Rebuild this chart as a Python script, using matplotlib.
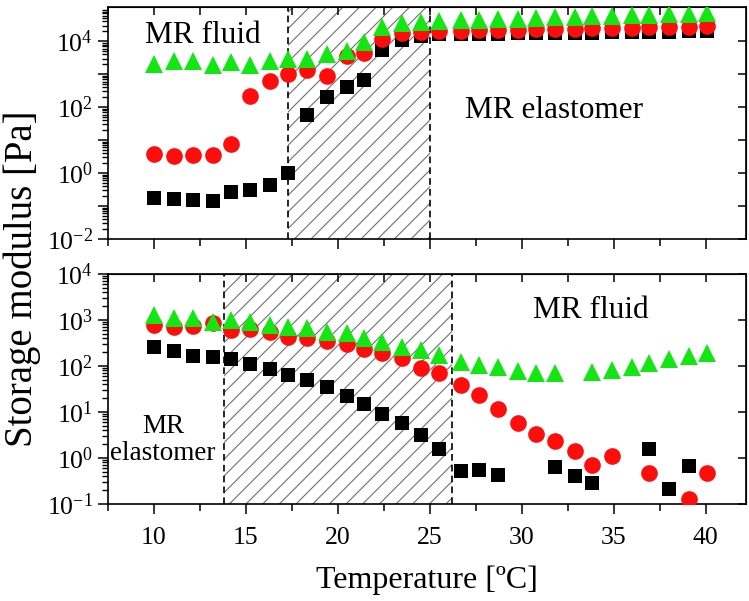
import numpy as np
import matplotlib
matplotlib.use('Agg')
import matplotlib.pyplot as plt
from matplotlib.ticker import FixedLocator, LogLocator, NullLocator, NullFormatter, FuncFormatter, MultipleLocator

plt.rcParams['font.family'] = ['Liberation Serif', 'DejaVu Serif']
plt.rcParams['mathtext.fontset'] = 'custom'
plt.rcParams['mathtext.rm'] = 'Liberation Serif'
plt.rcParams['mathtext.it'] = 'Liberation Serif:italic'
plt.rcParams['hatch.linewidth'] = 0.8

nan = np.nan

# temperature steps (same for every series)
temp = [10.0, 11.1, 12.1, 13.2, 14.2, 15.2, 16.3, 17.3, 18.3, 19.4,
        20.5, 21.4, 22.4, 23.5, 24.5, 25.5, 26.7, 27.7, 28.7, 29.8,
        30.8, 31.8, 32.9, 33.8, 34.9, 36.0, 36.9, 38.0, 39.1, 40.1]

# upper panel: MR fluid -> MR elastomer
top_black = [0.18, 0.16, 0.15, 0.14, 0.27, 0.31, 0.44, 1.0, 57, 205,
             414, 680, 5300, 10700, 14200, 16400, 16700, 17000, 17200, 17500,
             17700, 18000, 18200, 18500, 18800, 19000, 19300, 19600, 19900, 20300]
top_red = [3.9, 3.2, 3.6, 3.6, 7.4, 218, 633, 1040, 1390, 910,
           3460, 4300, 11500, 17600, 19000, 20300, 21000, 21500, 22000, 22500,
           23000, 23500, 24000, 24500, 25000, 25500, 26500, 27000, 28000, 29000]
top_green = [2000, 2500, 2500, 1950, 2400, 1950, 2500, 3000, 3000, 4000,
             5000, 9300, 28000, 35500, 38000, 41000, 43000, 45000, 47000, 49000,
             51000, 53000, 55000, 57000, 59000, 61000, 64000, 66000, 69000, 72000]

# lower panel: MR elastomer -> MR fluid
bot_black = [257, 214, 166, 158, 142, 110, 85, 63, 50, 35,
             22, 14.8, 9.1, 5.7, 3.2, 1.58, 0.52, 0.55, 0.43, nan,
             nan, 0.63, 0.41, 0.29, nan, nan, 1.58, 0.21, 0.67, nan]
bot_red = [770, 700, 740, 850, 610, 630, 550, 430, 410, 350,
           300, 236, 191, 149, 91, 71, 39, 23, 11.7, 5.7,
           3.3, 2.4, 1.4, 0.71, 1.1, nan, 0.47, nan, 0.13, 0.47]
bot_green = [1290, 1100, 1100, 910, 1000, 910, 775, 700, 670, 550,
             520, 410, 330, 257, 222, 175, 123, 105, 95, 78,
             71, 71, nan, 74, 81, 95, 117, 141, 165, 191]

top_band = (17.3, 25.0)
bot_band = (13.8, 26.2)

W, H = 749, 601
fig = plt.figure(figsize=(W / 100, H / 100), dpi=100)
ax1 = fig.add_axes([108 / W, 1 - 239 / H, 638 / W, 232 / H])
ax2 = fig.add_axes([108 / W, 1 - 504 / H, 638 / W, 230 / H])


def draw(ax, blk, red, grn, band):
    ax.axvspan(band[0], band[1], facecolor='none', edgecolor='#707070',
               hatch='//', linewidth=0, zorder=0)
    for xb in band:
        ax.axvline(xb, color='black', lw=1.2, ls=(0, (4, 2.5)), zorder=1)
    ax.plot(temp, blk, 's', color='black', ms=10.5, mew=0, zorder=3)
    ax.plot(temp, red, 'o', color='#ff0d0d', ms=12, mew=0, zorder=4)
    ax.plot(temp, grn, '^', color='#14e614', ms=13, mew=0, zorder=5)
    ax.set_yscale('log')
    ax.set_xlim(7.5, 42.2)
    ax.xaxis.set_major_locator(MultipleLocator(5))
    ax.xaxis.set_minor_locator(MultipleLocator(2.5))
    ax.tick_params(axis='x', which='major', direction='out', length=7, width=1.1, labelsize=18.5, pad=9.5)
    ax.tick_params(axis='x', which='minor', direction='out', length=5, width=1.1)
    ax.tick_params(axis='y', which='major', direction='out', length=7, width=1.1, labelsize=18.5, pad=4)
    ax.tick_params(axis='y', which='minor', direction='out', length=4, width=1.0)
    for s in ax.spines.values():
        s.set_linewidth(1.2)
    sx = ax.secondary_xaxis('top')
    sx.xaxis.set_major_locator(MultipleLocator(5))
    sx.xaxis.set_minor_locator(MultipleLocator(2.5))
    sx.tick_params(axis='x', which='both', direction='in', length=6, width=1.1, labeltop=False)
    sy = ax.secondary_yaxis('right')
    return sy


def label_all(v, pos):
    return r'$10^{%d}$' % int(round(np.log10(v)))


def label_even(v, pos):
    e = int(round(np.log10(v)))
    return r'$10^{%d}$' % e if e % 2 == 0 else ''


sy1 = draw(ax1, top_black, top_red, top_green, top_band)
ax1.set_ylim(1e-2, 1.1e5)
dec1 = [10.0 ** e for e in range(-2, 5)]
ax1.yaxis.set_major_locator(FixedLocator(dec1))
ax1.yaxis.set_major_formatter(FuncFormatter(label_even))
ax1.yaxis.set_minor_locator(LogLocator(base=10, subs=np.arange(2, 10) * 1.0, numticks=30))
ax1.yaxis.set_minor_formatter(NullFormatter())
ax1.tick_params(axis='x', labelbottom=False)
sy1.yaxis.set_major_locator(FixedLocator(dec1))
sy1.yaxis.set_minor_locator(NullLocator())
sy1.tick_params(axis='y', which='both', direction='in', length=6, width=1.1, labelright=False)

sy2 = draw(ax2, bot_black, bot_red, bot_green, bot_band)
ax2.set_ylim(1e-1, 1e4)
dec2 = [10.0 ** e for e in range(-1, 5)]
ax2.yaxis.set_major_locator(FixedLocator(dec2))
ax2.yaxis.set_major_formatter(FuncFormatter(label_all))
ax2.yaxis.set_minor_locator(LogLocator(base=10, subs=np.arange(2, 10) * 1.0, numticks=30))
ax2.yaxis.set_minor_formatter(NullFormatter())
sy2.yaxis.set_major_locator(FixedLocator(dec2))
sy2.yaxis.set_minor_locator(NullLocator())
sy2.tick_params(axis='y', which='both', direction='in', length=6, width=1.1, labelright=False)

ax1.text(0.058, 0.879, 'MR fluid', transform=ax1.transAxes, fontsize=22.5, va='center', ha='left')
ax1.text(0.56, 0.556, 'MR elastomer', transform=ax1.transAxes, fontsize=22.5, va='center', ha='left')
ax2.text(0.666, 0.843, 'MR fluid', transform=ax2.transAxes, fontsize=22.5, va='center', ha='left')
ax2.text(0.086, 0.278, 'MR\nelastomer', transform=ax2.transAxes, fontsize=19.5, va='center',
         ha='center', linespacing=1.15)

ax2.set_xlabel('Temperature [ºC]', fontsize=23, labelpad=12)
fig.text(0.03, 0.537, 'Storage modulus [Pa]', rotation=90, fontsize=28, va='center', ha='center')

fig.savefig('out.png', dpi=100)
